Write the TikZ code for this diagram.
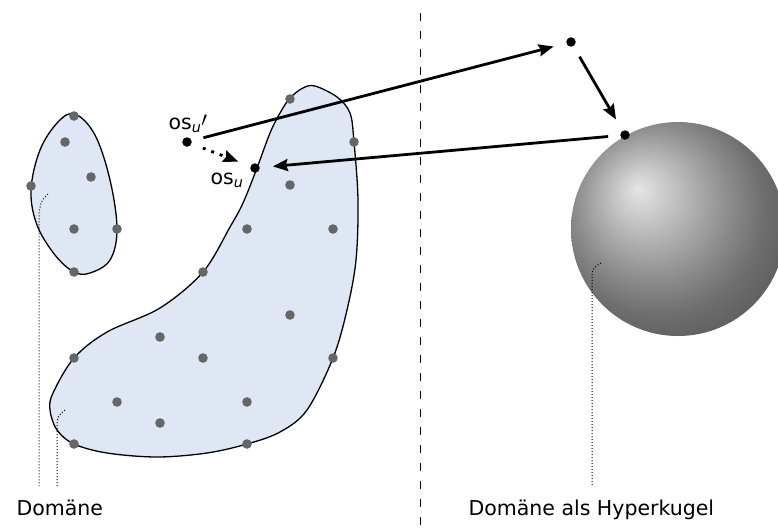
\documentclass[tikz,border=0pt]{standalone}
\usepackage{fontspec}
\setmainfont{DejaVu Sans}
\usetikzlibrary{arrows.meta,positioning,calc}
\definecolor{blobfill}{HTML}{DFE6F4}
\definecolor{pointgray}{HTML}{666666}
\pgfdeclareradialshading{hyperball}{\pgfpoint{-9.5bp}{9.5bp}}{color(0bp)=(black!10); color(18bp)=(black!45); color(25bp)=(black!57); color(39bp)=(black!71); color(50bp)=(black!71)}

\begin{document}
\begin{tikzpicture}[x=1pt,y=-1pt,every node/.style={font=\fontsize{20.5}{24}\selectfont},
  blob/.style={fill=blobfill,draw=black,line width=1.3pt},
  pt/.style={circle,fill=black,inner sep=0pt,minimum size=9.5pt},
  mapto/.style={line width=2.8pt,-{Stealth[length=15pt,width=12pt,inset=2pt]},shorten <=12pt,shorten >=13pt},
  leader/.style={line width=1pt,dash pattern=on 1pt off 2pt,black}]
 \useasboundingbox (0,0) rectangle (778,528);
 \draw[line width=1pt,dash pattern=on 8pt off 10pt] (420,13)--(420,528);
 \draw[blob] plot[smooth cycle,tension=0.6] coordinates {(75,114) (95,135) (110,180) (117,229) (110,260) (90,273) (74,272) (55,255) (37,225) (31,190) (40,150) (58,122)};
 \draw[blob] plot[smooth cycle,tension=0.55] coordinates {(315,86) (337,97) (350,113) (354,142) (358,200) (356,260) (347,310) (333,358) (307,410) (280,432) (247,444) (207,453) (157,457) (107,453) (74,444) (57,430) (50,410) (53,393) (74,358) (107,332) (160,308) (203,272) (230,227) (243,203) (257,168) (270,133) (280,113) (290,98) (303,88)};
 \foreach \x/\y in {74/116,65/142,91/177,31/186,74/229,117/229,74/272,
   290/99,354/142,290/185,247/229,333/229,203/272,290/315,160/337,74/358,
   203/358,333/358,117/402,247/402,160/423,74/444,247/444}
   {\fill[pointgray] (\x,\y) circle (4.8);}
 \shade[shading=hyperball] (678,229) circle (107);
 \node[anchor=base west] (domlabel) at (13,515) {Domäne};
 \node[anchor=base west] (balllabel) at (465,515) {Domäne als Hyperkugel};
 \coordinate (smalltip) at (48,194);\coordinate (smallfoot) at (39,486);
 \coordinate (bigtip) at (65,410);\coordinate (bigfoot) at (57,487);
 \coordinate (balltip) at (601,263);\coordinate (ballfoot) at (592,486);
 \draw[leader] (smalltip) .. controls (41,201) .. (39,214) -- (smallfoot);
 \draw[leader] (bigtip) .. controls (58,416) .. (57,424) -- (bigfoot);
 \draw[leader] (balltip) .. controls (593,268) .. (592,276) -- (ballfoot);
 \node[pt] (osuprime) at (187,142) {};
 \node[pt] (osu) at (255,168) {};
 \node[pt] (lift) at (571,42) {};
 \node[pt] (onball) at (625,135) {};
 \node[anchor=base west] (osuprimelabel) at (165,129) {os\textsubscript{\textit{u}}\raisebox{3pt}{$\prime$}};
 \node[anchor=base west] (osulabel) at (207,184) {os\textsubscript{\textit{u}}};
 \draw[mapto] (osuprime) -- (lift);
 \draw[mapto] (lift) -- (onball);
 \draw[mapto] (onball) -- (osu);
 \draw[mapto,dash pattern=on 3pt off 6pt] (osuprime) -- (osu);
\end{tikzpicture}
\end{document}
